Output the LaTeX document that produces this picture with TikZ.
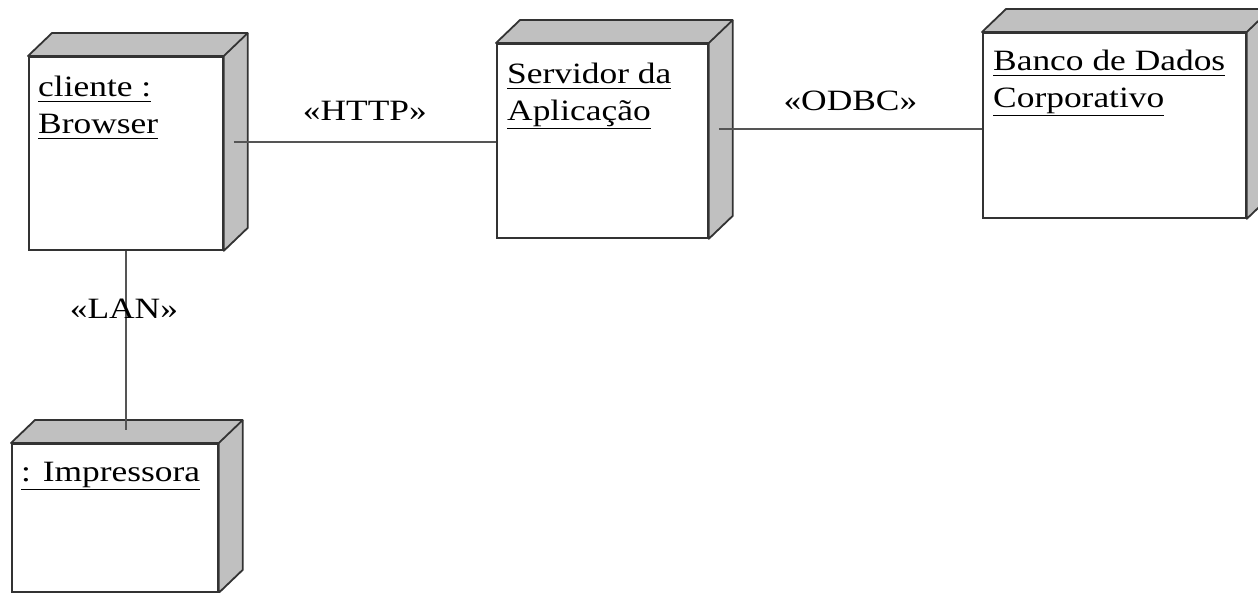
\documentclass[tikz,border=0pt]{standalone}
\usepackage{fontspec}
\setmainfont{Liberation Serif}[FakeStretch=1.2]
\usetikzlibrary{calc}

\definecolor{edgecol}{HTML}{333333}
\definecolor{sidecol}{HTML}{C0C0C0}
\definecolor{wirecol}{HTML}{555555}

% underline each line separately, a little lower under descenders
\newsavebox\ulbox
\newcommand\uln[1]{\sbox\ulbox{#1}\rlap{\rule[\dimexpr-5.5pt-\dp\ulbox/2\relax]{\wd\ulbox}{1.6pt}}\usebox\ulbox}

% a UML deployment node: front face plus shaded top and side faces
% #1 name, #2 x, #3 y (top-left of the front face), #4 width, #5 height
\newcommand\depnode[5]{%
  \node[face, minimum width=#4pt, minimum height=#5pt] (#1) at (#2,#3) {};
  \filldraw[cubeedge, fill=sidecol]
    (#1.north west) -- ++(24,-23) -- ($(#1.north east)+(24,-23)$)
    -- ($(#1.south east)+(24,-23)$) -- (#1.south east) -- (#1.north east) -- cycle;
  \draw[cubeedge] (#1.north east) -- ++(24,-23);
}

\begin{document}
\begin{tikzpicture}[x=1pt, y=-1pt,
  face/.style={draw=edgecol, line width=1.8pt, fill=white, inner sep=0pt, anchor=north west},
  cubeedge/.style={draw=edgecol, line width=1.8pt, line join=round},
  lbl/.style={inner sep=0pt, anchor=north west, align=left, font=\fontsize{29.5}{37}\selectfont},
  wire/.style={draw=wirecol, line width=2pt},
  stereo/.style={inner sep=0pt, anchor=base, font=\fontsize{29.5}{37}\selectfont}]

\useasboundingbox (0,0) rectangle (1258,592);
\clip (0,0) rectangle (1258,592);

% nodes
\depnode{cliente}{28}{56}{194}{193}
\depnode{servidor}{496}{43}{211}{194}
\depnode{banco}{982}{32}{263}{185}
\depnode{impressora}{11}{443}{206}{148}

\node[lbl] (cliente-txt)    at ($(cliente.north west)+(10,20)$)    {\uln{cliente :}\\\uln{Browser}};
\node[lbl] (servidor-txt)   at ($(servidor.north west)+(11,20)$)   {\uln{Servidor da}\\\uln{Aplicação}};
\node[lbl] (banco-txt)      at ($(banco.north west)+(11,18)$)      {\uln{Banco de Dados}\\\uln{Corporativo}};
\node[lbl] (impressora-txt) at ($(impressora.north west)+(10,19)$) {\uln{: Impressora}};

% connectors
\coordinate (http-a) at ($(cliente.east |- servidor.west)+(10,1)$);
\coordinate (http-b) at (http-a -| servidor.west);
\draw[wire] (http-a) -- (http-b);
\node[stereo] (http) at ($(http-a)!0.5!(http-b)+(0,-21)$) {«HTTP»};

\coordinate (odbc-a) at ($(servidor.east)+(10,-12)$);
\coordinate (odbc-b) at (odbc-a -| banco.west);
\draw[wire] (odbc-a) -- (odbc-b);
\node[stereo] (odbc) at ($(odbc-a)!0.5!(odbc-b)+(0,-18)$) {«ODBC»};

\coordinate (lan-b) at ($(cliente.south |- impressora.north)+(0,-13)$);
\draw[wire] (cliente.south) -- (lan-b);
\node[stereo] (lan) at ($(cliente.south)+(-2,68)$) {«LAN»};

\end{tikzpicture}
\end{document}
